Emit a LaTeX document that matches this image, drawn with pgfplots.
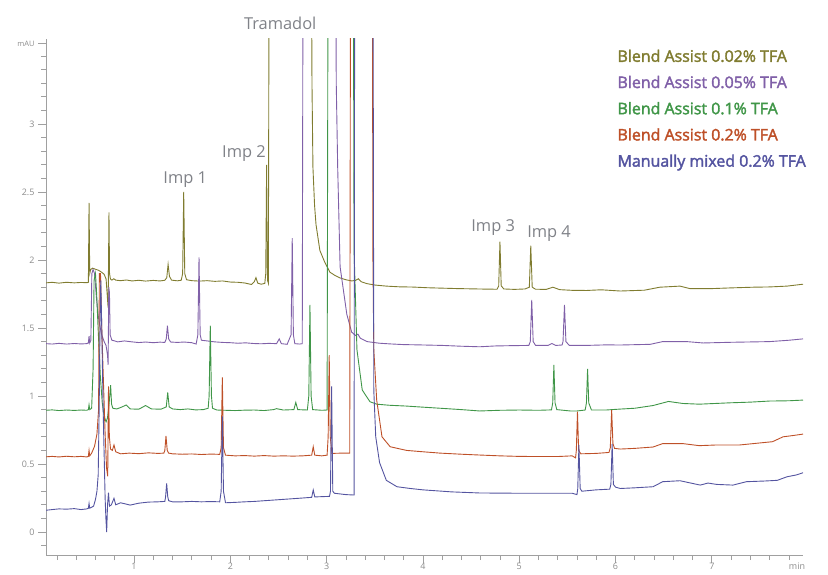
\documentclass[border=0pt]{standalone}
\usepackage{fontspec}
\setmainfont{Open Sans}
\newfontfamily\legfont{Open Sans}[FakeBold=2.2]
\usepackage{pgfplots}
\pgfplotsset{compat=1.18}
\definecolor{c1}{RGB}{128,124,48}
\definecolor{c2}{RGB}{128,96,168}
\definecolor{c3}{RGB}{64,150,72}
\definecolor{c4}{RGB}{190,80,40}
\definecolor{c5}{RGB}{84,84,160}
\definecolor{axisgray}{RGB}{160,160,160}
\definecolor{labgray}{RGB}{140,140,140}
\definecolor{anngray}{RGB}{128,130,136}
\begin{document}
\begin{tikzpicture}
\useasboundingbox (0,0) rectangle (828bp,575bp);
\begin{axis}[
 at={(46bp,20bp)}, anchor=south west,
 scale only axis, width=757bp, height=516bp,
 xmin=0.086, xmax=7.947, ymin=-0.169, ymax=3.625,
 axis lines*=left,
 axis line style={draw=axisgray, line width=0.8bp},
 tick align=outside,
 major tick length=8bp, minor tick length=5bp,
 every tick/.style={draw=axisgray, line width=0.7bp},
 xtick={1,2,3,4,5,6,7},
 minor xtick={0.2,0.4,...,7.8},
 ytick={0,0.5,1,1.5,2,2.5,3},
 minor ytick={-0.1,0,...,3.5},
 extra y ticks={3.59}, extra y tick labels={mAU},
 extra y tick style={yticklabel style={font=\fontsize{7.5}{8}\selectfont}},
 extra x ticks={7.885}, extra x tick labels={min},
 extra x tick style={major tick style={draw=none}},
 ticklabel style={font=\fontsize{9}{10}\selectfont, text=labgray},
 xticklabel style={text height=6.5bp, text depth=0pt, inner sep=1bp, yshift=1bp},
 /pgf/number format/assume math mode=true,
 clip mode=individual,
 every axis plot/.append style={line width=0.9bp},
 legend image code/.code={},
 legend cell align=left,
 legend style={draw=none, fill=none, at={(0.755,0.979)}, anchor=north west,
   inner sep=0pt, outer sep=0pt, row sep=10.2bp,
   nodes={inner sep=0pt, font=\legfont\fontsize{16}{16}\selectfont, text height=12bp, text depth=4bp},
   /tikz/every even column/.append style={column sep=0pt}},
]
\addplot[c1] coordinates {(0.087,1.832)(0.15,1.836)(0.22,1.830)(0.30,1.836)(0.38,1.832)(0.45,1.835)(0.51,1.833)(0.526,1.836)(0.533,2.42)(0.540,1.90)(0.550,1.93)(0.57,1.94)(0.60,1.932)(0.63,1.925)(0.66,1.912)(0.69,1.895)(0.71,1.86)(0.724,1.72)(0.731,1.65)(0.740,2.35)(0.746,1.90)(0.755,1.86)(0.77,1.852)(0.79,1.862)(0.81,1.852)(0.86,1.848)(0.92,1.853)(0.98,1.846)(1.05,1.851)(1.12,1.845)(1.20,1.850)(1.27,1.846)(1.32,1.851)(1.340,1.87)(1.354,1.968)(1.368,1.88)(1.39,1.852)(1.45,1.847)(1.49,1.851)(1.505,1.90)(1.516,2.50)(1.527,1.90)(1.545,1.855)(1.60,1.848)(1.68,1.845)(1.76,1.848)(1.84,1.843)(1.92,1.846)(2.00,1.838)(2.08,1.836)(2.15,1.831)(2.22,1.820)(2.25,1.842)(2.266,1.870)(2.285,1.830)(2.32,1.822)(2.358,1.828)(2.368,1.90)(2.377,2.70)(2.386,1.85)(2.395,1.83)(2.405,5)(2.838,5)(2.848,3.3)(2.858,2.68)(2.875,2.40)(2.89,2.26)(2.93,2.07)(2.98,1.985)(3.035,1.91)(3.09,1.885)(3.14,1.868)(3.20,1.855)(3.26,1.846)(3.30,1.850)(3.33,1.862)(3.36,1.840)(3.42,1.826)(3.50,1.816)(3.62,1.808)(3.75,1.803)(3.90,1.801)(4.05,1.796)(4.20,1.793)(4.35,1.790)(4.50,1.788)(4.65,1.786)(4.77,1.785)(4.787,1.81)(4.800,2.135)(4.813,1.81)(4.84,1.787)(4.95,1.784)(5.06,1.787)(5.105,1.80)(5.120,2.105)(5.135,1.80)(5.17,1.785)(5.28,1.784)(5.35,1.800)(5.42,1.782)(5.55,1.777)(5.70,1.776)(5.85,1.781)(6.05,1.772)(6.30,1.778)(6.46,1.800)(6.67,1.808)(6.77,1.790)(7.01,1.790)(7.20,1.795)(7.43,1.800)(7.60,1.802)(7.78,1.808)(7.947,1.822)};
\addlegendentry{\textcolor{c1}{Blend Assist 0.02\% TFA}}
\addplot[c2] coordinates {(0.087,1.385)(0.15,1.382)(0.22,1.387)(0.30,1.382)(0.38,1.386)(0.45,1.383)(0.51,1.385)(0.526,1.390)(0.533,1.44)(0.540,1.39)(0.552,1.41)(0.562,1.90)(0.575,1.93)(0.59,1.90)(0.61,1.72)(0.63,1.58)(0.66,1.46)(0.69,1.40)(0.71,1.37)(0.725,1.30)(0.731,1.23)(0.738,1.80)(0.745,1.76)(0.752,1.45)(0.77,1.41)(0.80,1.405)(0.83,1.398)(0.90,1.405)(0.98,1.398)(1.05,1.393)(1.12,1.397)(1.20,1.392)(1.27,1.396)(1.32,1.394)(1.335,1.42)(1.347,1.517)(1.36,1.42)(1.38,1.397)(1.45,1.394)(1.52,1.397)(1.60,1.392)(1.645,1.382)(1.663,1.45)(1.675,2.02)(1.687,1.45)(1.70,1.41)(1.76,1.405)(1.84,1.398)(1.92,1.394)(2.00,1.392)(2.08,1.388)(2.16,1.391)(2.24,1.386)(2.32,1.384)(2.40,1.387)(2.48,1.385)(2.508,1.420)(2.53,1.385)(2.59,1.380)(2.631,1.45)(2.643,2.16)(2.655,1.45)(2.67,1.385)(2.72,1.382)(2.747,1.385)(2.757,5)(3.090,5)(3.100,3.3)(3.115,2.68)(3.14,1.95)(3.21,1.60)(3.26,1.47)(3.30,1.445)(3.325,1.455)(3.35,1.425)(3.42,1.400)(3.55,1.388)(3.66,1.383)(3.80,1.378)(3.95,1.376)(4.20,1.372)(4.40,1.366)(4.59,1.362)(4.75,1.368)(4.90,1.370)(5.10,1.372)(5.115,1.40)(5.130,1.706)(5.145,1.40)(5.17,1.372)(5.30,1.372)(5.34,1.386)(5.38,1.372)(5.445,1.375)(5.455,1.40)(5.470,1.67)(5.485,1.40)(5.52,1.372)(5.70,1.372)(5.90,1.376)(6.05,1.375)(6.36,1.380)(6.49,1.400)(6.74,1.400)(6.91,1.390)(7.20,1.395)(7.60,1.400)(7.80,1.410)(7.947,1.420)};
\addlegendentry{\textcolor{c2}{Blend Assist 0.05\% TFA}}
\addplot[c3] coordinates {(0.087,0.895)(0.15,0.898)(0.22,0.893)(0.30,0.897)(0.38,0.894)(0.45,0.897)(0.51,0.895)(0.526,0.900)(0.533,0.935)(0.540,0.900)(0.56,0.91)(0.575,1.20)(0.585,1.85)(0.60,1.90)(0.612,1.75)(0.63,1.45)(0.65,1.15)(0.67,0.95)(0.69,0.85)(0.71,0.81)(0.725,0.84)(0.742,0.95)(0.757,1.08)(0.767,0.94)(0.78,0.91)(0.82,0.905)(0.86,0.915)(0.92,0.934)(0.96,0.905)(1.05,0.903)(1.12,0.930)(1.18,0.905)(1.28,0.903)(1.335,0.920)(1.350,1.027)(1.365,0.920)(1.40,0.905)(1.48,0.900)(1.56,0.905)(1.64,0.898)(1.72,0.900)(1.770,0.910)(1.780,1.00)(1.792,1.517)(1.804,1.00)(1.815,0.910)(1.86,0.897)(1.95,0.895)(2.05,0.893)(2.15,0.896)(2.25,0.897)(2.35,0.893)(2.45,0.900)(2.48,0.907)(2.55,0.897)(2.66,0.900)(2.68,0.953)(2.70,0.900)(2.80,0.897)(2.815,1.00)(2.827,1.67)(2.839,1.00)(2.855,0.900)(2.95,0.895)(3.005,0.897)(3.017,5)(3.275,5)(3.285,2.07)(3.315,1.34)(3.37,1.044)(3.45,0.958)(3.52,0.940)(3.65,0.932)(3.83,0.926)(4.00,0.918)(4.18,0.910)(4.40,0.900)(4.59,0.890)(4.80,0.895)(5.00,0.897)(5.20,0.895)(5.335,0.898)(5.348,0.95)(5.360,1.228)(5.372,0.95)(5.39,0.900)(5.53,0.890)(5.60,0.890)(5.685,0.897)(5.698,0.95)(5.710,1.20)(5.722,0.95)(5.75,0.897)(5.90,0.897)(6.05,0.904)(6.20,0.910)(6.39,0.930)(6.55,0.960)(6.70,0.945)(6.87,0.940)(7.19,0.950)(7.40,0.955)(7.60,0.963)(7.80,0.965)(7.947,0.970)};
\addlegendentry{\textcolor{c3}{Blend Assist 0.1\% TFA}}
\addplot[c4] coordinates {(0.087,0.553)(0.15,0.556)(0.22,0.552)(0.30,0.557)(0.38,0.553)(0.45,0.556)(0.51,0.552)(0.526,0.556)(0.533,0.60)(0.540,0.56)(0.56,0.58)(0.59,0.63)(0.615,0.72)(0.632,0.90)(0.640,1.90)(0.652,1.90)(0.665,1.50)(0.685,1.05)(0.700,0.72)(0.715,0.47)(0.727,0.41)(0.735,1.07)(0.744,0.70)(0.756,0.61)(0.775,0.60)(0.792,0.64)(0.81,0.59)(0.86,0.575)(0.95,0.580)(1.05,0.576)(1.15,0.582)(1.25,0.578)(1.31,0.580)(1.320,0.60)(1.332,0.706)(1.345,0.60)(1.36,0.580)(1.40,0.575)(1.50,0.572)(1.60,0.574)(1.70,0.570)(1.80,0.573)(1.89,0.571)(1.905,0.62)(1.917,1.137)(1.929,0.62)(1.95,0.565)(2.05,0.560)(2.15,0.562)(2.25,0.558)(2.35,0.562)(2.45,0.558)(2.55,0.560)(2.65,0.558)(2.75,0.560)(2.845,0.565)(2.861,0.627)(2.877,0.565)(2.95,0.560)(3.005,0.565)(3.016,0.70)(3.027,1.30)(3.038,0.70)(3.055,0.578)(3.15,0.580)(3.240,0.580)(3.250,5)(3.475,5)(3.480,2.07)(3.490,1.34)(3.52,0.97)(3.575,0.70)(3.66,0.627)(3.83,0.600)(4.00,0.590)(4.18,0.580)(4.40,0.572)(4.59,0.566)(4.80,0.560)(5.00,0.556)(5.20,0.555)(5.40,0.555)(5.55,0.560)(5.585,0.545)(5.593,0.60)(5.605,0.885)(5.617,0.60)(5.64,0.575)(5.80,0.578)(5.932,0.585)(5.946,0.62)(5.960,0.897)(5.973,0.65)(5.99,0.615)(6.05,0.610)(6.20,0.615)(6.39,0.625)(6.49,0.650)(6.70,0.650)(6.87,0.635)(7.05,0.640)(7.29,0.640)(7.50,0.655)(7.63,0.664)(7.74,0.700)(7.85,0.710)(7.947,0.720)};
\addlegendentry{\textcolor{c4}{Blend Assist 0.2\% TFA}}
\addplot[c5] coordinates {(0.087,0.160)(0.15,0.165)(0.22,0.170)(0.30,0.168)(0.38,0.172)(0.45,0.165)(0.51,0.170)(0.526,0.175)(0.533,0.21)(0.540,0.175)(0.58,0.19)(0.60,0.24)(0.615,0.30)(0.628,0.42)(0.638,0.90)(0.648,1.60)(0.655,1.85)(0.665,1.50)(0.680,0.88)(0.692,0.50)(0.700,0.25)(0.708,0.10)(0.716,0.00)(0.725,0.20)(0.735,0.29)(0.745,0.19)(0.765,0.20)(0.792,0.248)(0.81,0.200)(0.86,0.215)(0.92,0.205)(0.96,0.198)(1.05,0.212)(1.15,0.220)(1.25,0.222)(1.32,0.225)(1.328,0.26)(1.339,0.358)(1.350,0.26)(1.36,0.23)(1.40,0.222)(1.50,0.222)(1.60,0.225)(1.70,0.222)(1.80,0.224)(1.89,0.222)(1.905,0.30)(1.917,0.85)(1.929,0.30)(1.95,0.215)(2.05,0.218)(2.15,0.222)(2.25,0.225)(2.35,0.230)(2.45,0.235)(2.55,0.240)(2.65,0.245)(2.75,0.250)(2.845,0.255)(2.861,0.309)(2.877,0.258)(2.95,0.260)(3.030,0.262)(3.040,0.30)(3.052,1.07)(3.064,0.30)(3.080,0.285)(3.20,0.275)(3.285,0.272)(3.293,5)(3.480,5)(3.490,1.04)(3.51,0.70)(3.55,0.51)(3.62,0.38)(3.73,0.333)(3.87,0.320)(4.00,0.310)(4.30,0.295)(4.59,0.287)(5.00,0.285)(5.42,0.285)(5.55,0.285)(5.600,0.275)(5.608,0.32)(5.620,0.64)(5.633,0.32)(5.65,0.300)(5.80,0.310)(5.940,0.315)(5.952,0.35)(5.965,0.647)(5.978,0.35)(6.00,0.330)(6.05,0.320)(6.20,0.325)(6.39,0.333)(6.49,0.370)(6.67,0.377)(6.88,0.345)(6.96,0.360)(7.05,0.350)(7.22,0.345)(7.36,0.370)(7.55,0.375)(7.68,0.380)(7.78,0.406)(7.88,0.420)(7.947,0.436)};
\addlegendentry{\textcolor{c5}{Manually mixed 0.2\% TFA}}
\node[anchor=base, text=anngray, font=\fontsize{16.5}{17}\selectfont] at (axis cs:2.518,3.696) {Tramadol};
\node[anchor=base, text=anngray, font=\fontsize{16.5}{17}\selectfont] at (axis cs:1.532,2.565) {Imp 1};
\node[anchor=base, text=anngray, font=\fontsize{16.5}{17}\selectfont] at (axis cs:2.142,2.752) {Imp 2};
\node[anchor=base, text=anngray, font=\fontsize{16.5}{17}\selectfont] at (axis cs:4.730,2.206) {Imp 3};
\node[anchor=base, text=anngray, font=\fontsize{16.5}{17}\selectfont] at (axis cs:5.310,2.165) {Imp 4};
\end{axis}
\end{tikzpicture}
\end{document}
